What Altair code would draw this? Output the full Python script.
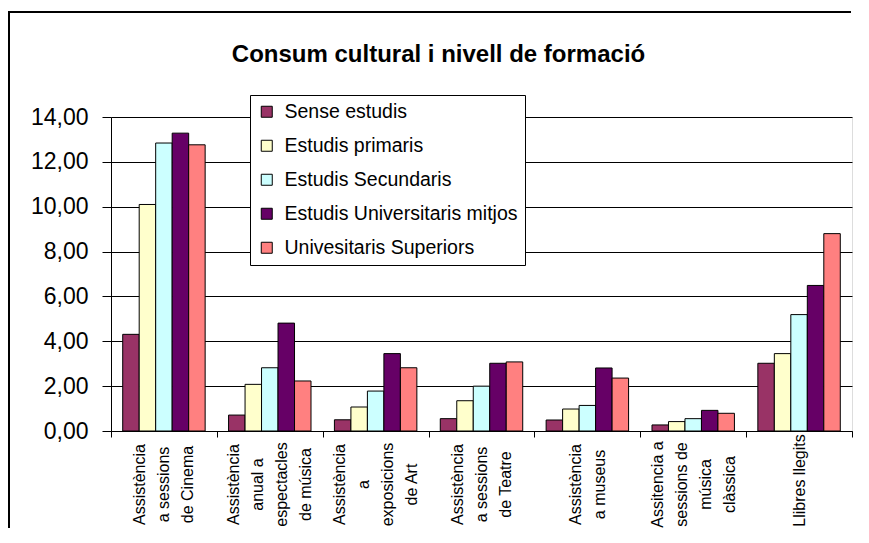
import altair as alt
import pandas as pd

FONT = "Liberation Sans"

categories = [
    "Assistència|a sessions|de Cinema",
    "Assistència|anual a|espectacles|de música",
    "Assistència|a|exposicions|de Art",
    "Assistència|a sessions|de Teatre",
    "Assistència|a museus",
    "Assitencia a|sessions de|música|clàssica",
    "Llibres llegits",
]
series = [
    "Sense estudis",
    "Estudis primaris",
    "Estudis Secundaris",
    "Estudis Universitaris mitjos",
    "Univesitaris Superiors",
]
colors = ["#993366", "#FFFFCC", "#CCFFFF", "#660066", "#FF8080"]

sense = [4.31, 0.71, 0.50, 0.55, 0.49, 0.27, 3.02]
primaris = [10.10, 2.08, 1.07, 1.35, 0.98, 0.42, 3.45]
secundaris = [12.84, 2.82, 1.78, 2.00, 1.14, 0.55, 5.19]
mitjos = [13.28, 4.81, 3.45, 3.02, 2.81, 0.92, 6.49]
superiors = [12.76, 2.23, 2.82, 3.08, 2.36, 0.79, 8.80]

y_ticks = [0, 2, 4, 6, 8, 10, 12, 14]

values_by_series = [sense, primaris, secundaris, mitjos, superiors]
rows = []
for s, vals in zip(series, values_by_series):
    for c, v in zip(categories, vals):
        rows.append({"categoria": c, "serie": s, "valor": v})
df = pd.DataFrame(rows)

LH = 24
nlines = "length(split(datum.value, '|'))"
label_offset = {
    "condition": [
        {"test": f"{nlines} == 4", "value": -1.5 * LH},
        {"test": f"{nlines} == 3", "value": -1.0 * LH},
        {"test": f"{nlines} == 2", "value": -0.5 * LH},
    ],
    "value": 0,
}
label_padding = {
    "condition": [{"test": f"{nlines} == 1", "value": 43}],
    "value": 47,
}

bars = alt.Chart(df).mark_bar(stroke="black", strokeWidth=1).encode(
    x=alt.X(
        "categoria:N",
        sort=categories,
        scale=alt.Scale(paddingInner=0, paddingOuter=0),
        axis=alt.Axis(
            title=None,
            labelAngle=-90,
            labelAlign="center",
            labelBaseline="middle",
            labelExpr="split(datum.label, '|')",
            labelFont=FONT,
            labelFontSize=16,
            labelLineHeight=LH,
            labelPadding=label_padding,
            labelOffset=label_offset,
            labelColor="black",
            labelLimit=0,
            labelOverlap=False,
            tickSize=6,
            tickBand="extent",
            tickColor="black",
            domainColor="black",
            grid=False,
        ),
    ),
    xOffset=alt.XOffset(
        "serie:N", sort=series, scale=alt.Scale(paddingInner=0, paddingOuter=0.71)
    ),
    y=alt.Y(
        "valor:Q",
        scale=alt.Scale(domain=[0, 14], nice=False),
        axis=alt.Axis(
            title=None,
            values=y_ticks,
            labelExpr="replace(format(datum.value, '.2f'), '.', ',')",
            labelFont=FONT,
            labelFontSize=23,
            labelColor="black",
            labelPadding=14,
            labelOverlap=False,
            tickSize=9,
            tickColor="black",
            domainColor="black",
            gridColor="black",
            gridOpacity=1,
        ),
    ),
    color=alt.Color(
        "serie:N",
        sort=series,
        scale=alt.Scale(domain=series, range=colors),
        legend=alt.Legend(
            title=None,
            orient="none",
            legendX=139,
            legendY=-22,
            direction="vertical",
            fillColor="white",
            strokeColor="black",
            padding=7,
            symbolType="square",
            symbolSize=121,
            symbolStrokeColor="black",
            symbolStrokeWidth=1,
            symbolOpacity=1,
            labelFont=FONT,
            labelFontSize=19.5,
            labelColor="black",
            labelOffset=8,
            labelLimit=0,
            rowPadding=13,
        ),
    ),
)

frame_data = alt.Data(values=[{"a": 1}])
top_line = alt.Chart(frame_data).mark_rule(color="black", strokeWidth=2).encode(
    x=alt.value(-102), x2=alt.value(740), y=alt.value(-105)
)
left_line = alt.Chart(frame_data).mark_rule(color="black", strokeWidth=2).encode(
    x=alt.value(-102), y=alt.value(-106), y2=alt.value(411)
)

chart = alt.layer(top_line, left_line, bars).properties(
    width=741,
    height=314,
    autosize=alt.AutoSizeParams(type="none"),
    padding={"left": 103, "top": 109, "right": 9, "bottom": 97},
    title=alt.TitleParams(
        "Consum cultural i nivell de formació",
        font=FONT,
        fontSize=24,
        fontWeight="bold",
        color="black",
        anchor="middle",
        frame="group",
        dx=-43,
        baseline="alphabetic",
        offset=-76,
    ),
).configure_view(
    fill="#C0C0C0", stroke="#808080", strokeWidth=1
).configure(background="white")

chart.save("out.html", embed_options={"renderer": "svg", "actions": False})
